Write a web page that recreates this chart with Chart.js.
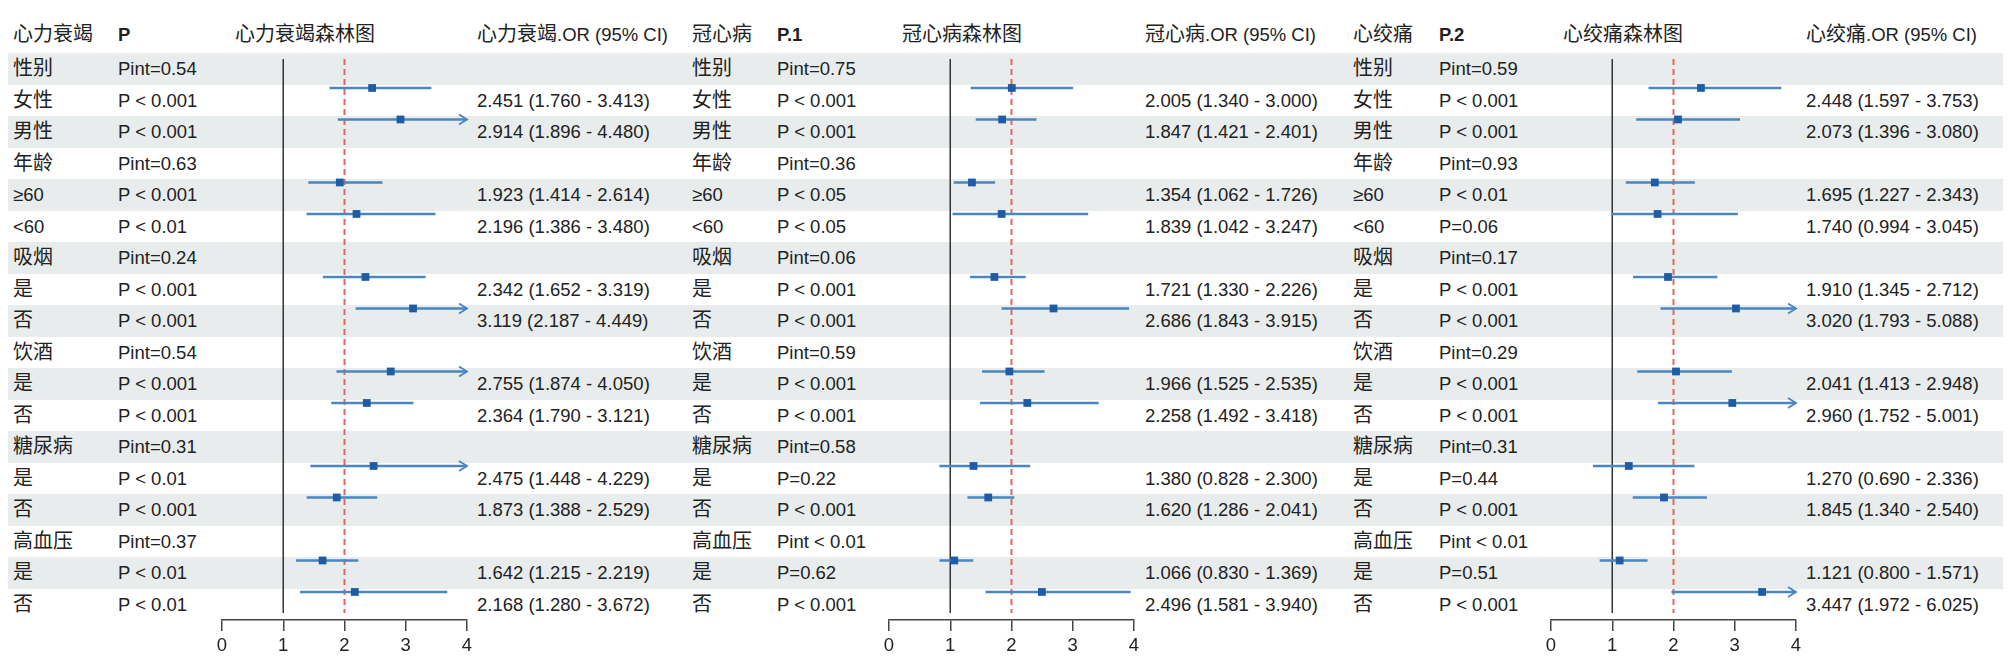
<!DOCTYPE html>
<html>
<head>
<meta charset="utf-8">
<script src="https://cdn.jsdelivr.net/npm/chart.js@4.4.1/dist/chart.umd.min.js"></script>
<style>
@font-face{
  font-family:'CJKWide';
  src:local('Noto Sans CJK SC'),local('NotoSansCJKsc-Regular'),local('Noto Sans CJK SC Regular');
  size-adjust:108%;
  unicode-range:U+3000-303F,U+4E00-9FFF;
}
html,body{margin:0;padding:0;background:#fff;}
#page{position:relative;width:2010px;height:662px;overflow:hidden;
  font-family:'Liberation Sans','CJKWide','Noto Sans CJK SC',sans-serif;font-size:18.5px;color:#222;}
.band{position:absolute;left:8px;width:1995px;background:#e8ecec;}
.cell{position:absolute;white-space:nowrap;}
.bold{font-weight:bold;}
canvas{position:absolute;top:0;}
</style>
</head>
<body>
<div id="page"></div>
<script>
// ---- data ----
const rowLabels=['性别','女性','男性','年龄','≥60','<60','吸烟','是','否','饮酒','是','否','糖尿病','是','否','高血压','是','否'];

const hfP=['Pint=0.54','P < 0.001','P < 0.001','Pint=0.63','P < 0.001','P < 0.01','Pint=0.24','P < 0.001','P < 0.001',
  'Pint=0.54','P < 0.001','P < 0.001','Pint=0.31','P < 0.01','P < 0.001','Pint=0.37','P < 0.01','P < 0.01'];
const hfOR =[null,2.451,2.914,null,1.923,2.196,null,2.342,3.119,null,2.755,2.364,null,2.475,1.873,null,1.642,2.168];
const hfLow=[null,1.760,1.896,null,1.414,1.386,null,1.652,2.187,null,1.874,1.790,null,1.448,1.388,null,1.215,1.280];
const hfHigh=[null,3.413,4.480,null,2.614,3.480,null,3.319,4.449,null,4.050,3.121,null,4.229,2.529,null,2.219,3.672];

const chdP=['Pint=0.75','P < 0.001','P < 0.001','Pint=0.36','P < 0.05','P < 0.05','Pint=0.06','P < 0.001','P < 0.001',
  'Pint=0.59','P < 0.001','P < 0.001','Pint=0.58','P=0.22','P < 0.001','Pint < 0.01','P=0.62','P < 0.001'];
const chdOR =[null,2.005,1.847,null,1.354,1.839,null,1.721,2.686,null,1.966,2.258,null,1.380,1.620,null,1.066,2.496];
const chdLow=[null,1.340,1.421,null,1.062,1.042,null,1.330,1.843,null,1.525,1.492,null,0.828,1.286,null,0.830,1.581];
const chdHigh=[null,3.000,2.401,null,1.726,3.247,null,2.226,3.915,null,2.535,3.418,null,2.300,2.041,null,1.369,3.940];

const apP=['Pint=0.59','P < 0.001','P < 0.001','Pint=0.93','P < 0.01','P=0.06','Pint=0.17','P < 0.001','P < 0.001',
  'Pint=0.29','P < 0.001','P < 0.001','Pint=0.31','P=0.44','P < 0.001','Pint < 0.01','P=0.51','P < 0.001'];
const apOR =[null,2.448,2.073,null,1.695,1.740,null,1.910,3.020,null,2.041,2.960,null,1.270,1.845,null,1.121,3.447];
const apLow=[null,1.597,1.396,null,1.227,0.994,null,1.345,1.793,null,1.413,1.752,null,0.690,1.340,null,0.800,1.972];
const apHigh=[null,3.753,3.080,null,2.343,3.045,null,2.712,5.088,null,2.948,5.001,null,2.336,2.540,null,1.571,6.025];

const xTicks=[0,1,2,3,4];
const nullLine=1, dashLine=2;

// ---- layout ----
const ROW_TOP=53, ROW_H=31.5, HEAD_Y=35;
const FOREST_W=245, PAD=20;
const panels=[
  {name:'心力衰竭',pHead:'P',  labelX:13,  pX:118, titleX:235, orX:477,  forestX:222,  p:hfP,  or:hfOR,  lo:hfLow,  hi:hfHigh},
  {name:'冠心病',  pHead:'P.1',labelX:692, pX:777, titleX:902, orX:1145, forestX:889,  p:chdP, or:chdOR, lo:chdLow, hi:chdHigh},
  {name:'心绞痛',  pHead:'P.2',labelX:1353,pX:1439,titleX:1563,orX:1806, forestX:1551, p:apP,  or:apOR,  lo:apLow,  hi:apHigh}
];
const MARK_OFF=0.11, REF_TOP=0.19, REF_BOT=17.78;

const page=document.getElementById('page');
function cell(text,x,y,cls){
  const d=document.createElement('div');
  d.className='cell'+(cls?' '+cls:'');
  d.textContent=text;
  d.style.left=x+'px';
  d.style.top=(y-ROW_H/2)+'px';
  d.style.height=ROW_H+'px';
  d.style.lineHeight=ROW_H+'px';
  page.appendChild(d);
}

// shaded bands
rowLabels.forEach((_,i)=>{
  if(i%2) return;
  const b=document.createElement('div');
  b.className='band';
  b.style.top=(ROW_TOP+i*ROW_H)+'px';
  b.style.height=ROW_H+'px';
  page.appendChild(b);
});

const fmt3=v=>v.toFixed(3);

const arrowPlugin={
  id:'ciArrows',
  afterDatasetsDraw(chart,args,opts){
    const {ctx,scales:{x,y}}=chart;
    ctx.save();
    ctx.strokeStyle=opts.color;
    ctx.lineWidth=1.8;
    (opts.rows||[]).forEach(yv=>{
      const px=x.getPixelForValue(x.max), py=y.getPixelForValue(yv);
      ctx.beginPath();
      ctx.moveTo(px-8,py-5);ctx.lineTo(px,py);ctx.lineTo(px-8,py+5);
      ctx.stroke();
    });
    ctx.restore();
  }
};

panels.forEach((pn,k)=>{
  // header
  cell(pn.name,pn.labelX,HEAD_Y);
  cell(pn.pHead,pn.pX,HEAD_Y,'bold');
  cell(pn.name+'森林图',pn.titleX,HEAD_Y);
  cell(pn.name+'.OR (95% CI)',pn.orX,HEAD_Y);
  // rows
  rowLabels.forEach((lab,i)=>{
    const cy=ROW_TOP+i*ROW_H+ROW_H/2;
    cell(lab,pn.labelX,cy);
    cell(pn.p[i],pn.pX,cy);
    if(pn.or[i]!=null) cell(`${fmt3(pn.or[i])} (${fmt3(pn.lo[i])} - ${fmt3(pn.hi[i])})`,pn.orX,cy);
  });

  // forest chart
  const xMax=xTicks[xTicks.length-1];
  const bars=[],pts=[],arrows=[];
  pn.or.forEach((v,i)=>{
    if(v==null) return;
    const yv=i+MARK_OFF;
    bars.push({x:[pn.lo[i],Math.min(pn.hi[i],xMax)],y:yv});
    pts.push({x:v,y:yv});
    if(pn.hi[i]>xMax) arrows.push(yv);
  });

  const cv=document.createElement('canvas');
  cv.width=FOREST_W+PAD*2; cv.height=662;
  cv.style.left=(pn.forestX-PAD)+'px';
  page.appendChild(cv);

  new Chart(cv,{
    type:'scatter',
    plugins:[arrowPlugin],
    data:{datasets:[
      {type:'line',data:[{x:nullLine,y:REF_TOP},{x:nullLine,y:REF_BOT}],borderColor:'#333',borderWidth:1.5,pointRadius:0,order:4},
      {type:'line',data:[{x:dashLine,y:REF_TOP},{x:dashLine,y:REF_BOT}],borderColor:'#e3675d',borderWidth:2,borderDash:[6,4],pointRadius:0,order:3},
      {type:'bar',indexAxis:'y',data:bars,backgroundColor:'#4a86c1',barThickness:2,borderWidth:0,order:2},
      {type:'scatter',data:pts,pointStyle:'rect',pointRadius:5.5,backgroundColor:'#1f5ca6',borderWidth:0,order:1}
    ]},
    options:{
      responsive:false,animation:false,
      layout:{padding:{left:PAD,right:PAD,top:ROW_TOP,bottom:0}},
      plugins:{legend:{display:false},tooltip:{enabled:false},ciArrows:{rows:arrows,color:'#4a86c1'}},
      scales:{
        x:{type:'linear',min:0,max:xMax,offset:false,
          afterFit(s){s.height=662-ROW_TOP-ROW_H*rowLabels.length;},
          afterBuildTicks(s){s.ticks=xTicks.map(v=>({value:v}));},
          ticks:{color:'#222',padding:4,autoSkip:false,maxRotation:0,font:{family:'Liberation Sans',size:18.5}},
          grid:{drawOnChartArea:false,drawTicks:true,tickLength:11,color:'#444',lineWidth:1.5,offset:false},
          border:{display:true,color:'#444',width:1.5}},
        y:{type:'linear',min:0,max:rowLabels.length,reverse:true,display:false,offset:false,grid:{offset:false}}
      }
    }
  });
});
</script>
</body>
</html>
